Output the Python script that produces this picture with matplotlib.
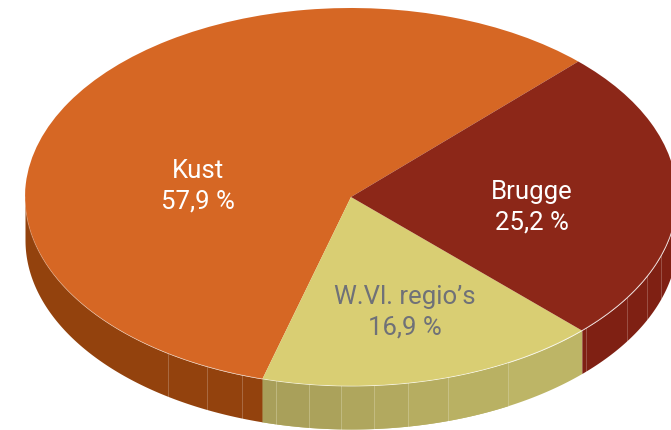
import numpy as np
import matplotlib
matplotlib.use("Agg")
import matplotlib.pyplot as plt

labels = ["Kust", "W.Vl. regio\u2019s", "Brugge"]
values = [57.9, 16.9, 25.2]
top_colors = ["#D66724", "#D9CE73", "#8C2718"]
side_colors = ["#93420D", "#BDB566", "#7F2013"]
text_colors = ["white", "#6F7178", "white"]
label_xy = [(198, 186.5), (405, 312.5), (532, 207.5)]
start_angle = 45.8

seam_x = [168, 207, 242, 276, 309, 341, 374, 408, 448, 508, 586, 627, 647, 661]
# rim of the W.Vl. slice darkens leftwards, one shade per facet
yellow_facet_x = [262, 276, 309, 341, 374, 408, 448, 508]
yellow_facet_colors = ["#A89F5A", "#A9A05A", "#ABA25B", "#AFA65D", "#B2A95F", "#B6AD61", "#B9B163"]

W, H = 671, 431
CX, CY, RX, RY, DEPTH = 351, 198, 326, 189, 43

fig = plt.figure(figsize=(W / 100, H / 100), dpi=100)
ax = fig.add_axes([0, 0, 1, 1])
wedges, _ = ax.pie(values, colors=top_colors, startangle=start_angle,
                   counterclock=True, radius=1, center=(0, 0),
                   wedgeprops=dict(linewidth=0), normalize=True)
for w in wedges:
    w.set_zorder(5)
ax.set_aspect("auto")
ax.set_xlim((0 - CX) / RX, (W - CX) / RX)
ax.set_ylim((CY - H) / RY, (CY - 0) / RY)
ax.axis("off")

d = DEPTH / RY
a0 = start_angle
for v, c in zip(values, side_colors):
    a1 = a0 + v / sum(values) * 360
    for offset in (0, 360):
        lo = max(a0, 180 + offset)
        hi = min(a1, 360 + offset)
        if hi > lo:
            t = np.radians(np.linspace(lo, hi, 200))
            ax.fill_between(np.cos(t), np.sin(t) - d, np.sin(t), color=c,
                            linewidth=0, zorder=2)
    a0 = a1

# darker facets of the yellow rim
for x0, x1, c in zip(yellow_facet_x[:-1], yellow_facet_x[1:], yellow_facet_colors):
    xs = (np.linspace(x0, x1, 40) - CX) / RX
    ys = -np.sqrt(1 - xs ** 2)
    ax.fill_between(xs, ys - d, ys, color=c, linewidth=0, zorder=2.5)

# facet seams on the rim
for x in seam_x:
    cx = (x - CX) / RX
    sy = -np.sqrt(1 - cx ** 2)
    ax.plot([cx, cx], [sy, sy - d], color="white", alpha=0.22, lw=0.7, zorder=3)

# pale rim highlight along the front edge of the top face
t = np.radians(np.linspace(180, 360, 400))
ax.plot(np.cos(t), np.sin(t), color="white", alpha=0.3, lw=0.6, zorder=6)

for lab, v, (x, y), col in zip(labels, values, label_xy, text_colors):
    txt = f"{lab}\n{str(v).replace('.', ',')} %"
    fig.text(x / W, 1 - y / H, txt, ha="center", va="center", color=col,
             fontsize=18.5, family="Roboto", linespacing=1.36, zorder=10)

fig.savefig("out.png", dpi=100)
